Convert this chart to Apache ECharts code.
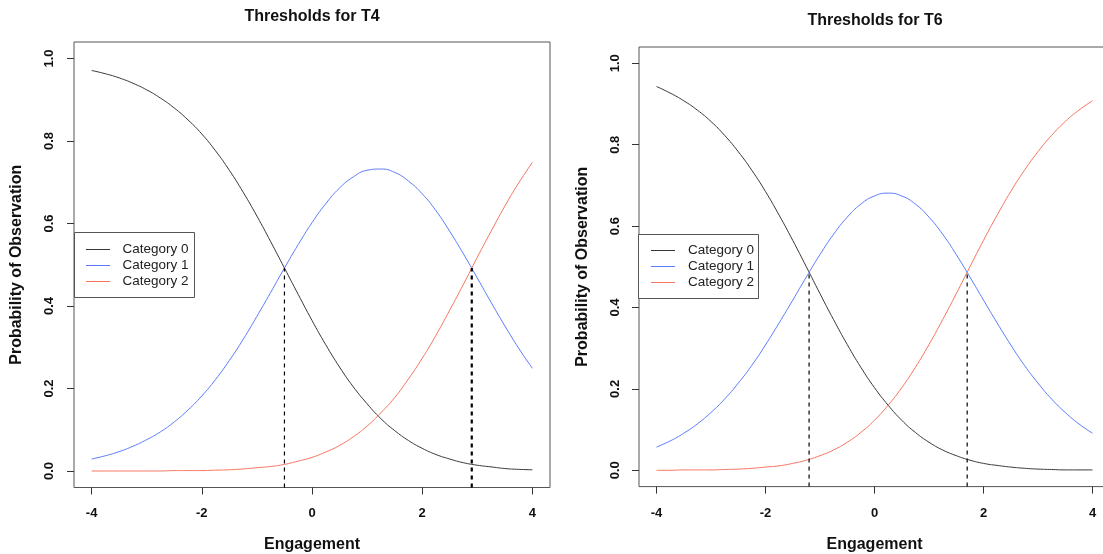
<!DOCTYPE html>
<html>
<head>
<meta charset="utf-8">
<title>Thresholds</title>
<script src="https://cdn.jsdelivr.net/npm/echarts@6.0.0/dist/echarts.min.js"></script>
<style>
	html,body{margin:0;padding:0;background:#fff;}
	#main{width:1103px;height:554px;}
</style>
</head>
<body>
<div id="main"></div>
<script>
// engagement values where the curves were read (every 0.25)
var xs = [-4, -3.75, -3.5, -3.25, -3, -2.75, -2.5, -2.25, -2, -1.75, -1.5, -1.25, -1, -0.75, -0.5, -0.25,
	0, 0.25, 0.5, 0.75, 1, 1.25, 1.5, 1.75, 2, 2.25, 2.5, 2.75, 3, 3.25, 3.5, 3.75, 4];

// T4 probabilities
var t4_cat0 = [0.971, 0.963, 0.953, 0.940, 0.924, 0.904, 0.880, 0.851, 0.817, 0.776, 0.729, 0.676, 0.618, 0.556, 0.492, 0.428,
	0.365, 0.306, 0.252, 0.204, 0.163, 0.127, 0.098, 0.074, 0.055, 0.040, 0.029, 0.020, 0.014, 0.010, 0.006, 0.004, 0.003];
var t4_cat1 = [0.029, 0.037, 0.047, 0.060, 0.076, 0.095, 0.119, 0.148, 0.182, 0.222, 0.268, 0.319, 0.375, 0.433, 0.492, 0.549,
	0.602, 0.648, 0.686, 0.713, 0.729, 0.732, 0.724, 0.703, 0.672, 0.631, 0.581, 0.526, 0.468, 0.409, 0.352, 0.298, 0.249];
var t4_cat2 = [0.000, 0.000, 0.000, 0.000, 0.000, 0.000, 0.001, 0.001, 0.001, 0.002, 0.003, 0.005, 0.008, 0.011, 0.016, 0.024,
	0.033, 0.046, 0.062, 0.083, 0.109, 0.141, 0.178, 0.223, 0.273, 0.329, 0.390, 0.453, 0.518, 0.581, 0.642, 0.698, 0.748];

// T6 probabilities
var t6_cat0 = [0.943, 0.927, 0.908, 0.885, 0.857, 0.823, 0.783, 0.737, 0.685, 0.627, 0.565, 0.500, 0.434, 0.370, 0.309, 0.253,
	0.203, 0.160, 0.123, 0.093, 0.069, 0.050, 0.036, 0.025, 0.017, 0.012, 0.008, 0.005, 0.003, 0.002, 0.001, 0.001, 0.001];
var t6_cat1 = [0.057, 0.072, 0.091, 0.114, 0.142, 0.175, 0.214, 0.258, 0.308, 0.362, 0.418, 0.475, 0.530, 0.580, 0.622, 0.654,
	0.674, 0.681, 0.674, 0.654, 0.622, 0.580, 0.530, 0.475, 0.418, 0.362, 0.308, 0.258, 0.214, 0.175, 0.142, 0.114, 0.091];
var t6_cat2 = [0.000, 0.000, 0.001, 0.001, 0.001, 0.002, 0.003, 0.005, 0.008, 0.011, 0.017, 0.025, 0.036, 0.050, 0.069, 0.093,
	0.123, 0.160, 0.203, 0.253, 0.309, 0.370, 0.434, 0.500, 0.565, 0.627, 0.685, 0.737, 0.783, 0.823, 0.857, 0.885, 0.908];

// thresholds (dashed lines) and the height where the curves cross
var t4_thresholds = [-0.5, 2.9];
var t4_cross = [0.492, 0.492];
var t6_thresholds = [-1.2, 1.7];
var t6_cross = [0.487, 0.487];

var xTicks = [-4, -2, 0, 2, 4];
var yTicks = [0, 0.2, 0.4, 0.6, 0.8, 1.0];
var categories = ['Category 0', 'Category 1', 'Category 2'];
var titles = ['Thresholds for T4', 'Thresholds for T6'];

var colors = ['#383838', '#5b7bfe', '#f8735f'];
var FONT = 'Liberation Sans, Arial, Helvetica, sans-serif';

window.onload = function(){
	e_chart();
};

function pairs(vals){
	var out = [];
	for (var i = 0; i < xs.length; i++) {
		out.push([xs[i], vals[i]]);
	}
	return out;
}

function makeX(idx){
	return {
		gridIndex: idx,
		type: 'value',
		min: -4.32,
		max: 4.32,
		axisLine: {show: false, onZero: false},
		splitLine: {show: false},
		axisTick: {show: true, length: 7, customValues: xTicks, lineStyle: {color: '#333', width: 1}},
		axisLabel: {
			customValues: xTicks,
			margin: idx == 0 ? 19 : 20,
			fontFamily: FONT, fontWeight: 'bold', fontSize: 13, color: '#111',
			formatter: function(v){ return String(v); }
		},
		name: 'Engagement',
		nameLocation: 'middle',
		nameGap: idx == 0 ? 49 : 50,
		nameTextStyle: {fontFamily: FONT, fontWeight: 'bold', fontSize: 16, color: '#111'}
	};
}

function makeY(idx){
	return {
		gridIndex: idx,
		type: 'value',
		min: -0.04,
		max: 1.04,
		axisLine: {show: false, onZero: false},
		splitLine: {show: false},
		axisTick: {show: true, length: 7, customValues: yTicks, lineStyle: {color: '#333', width: 1}},
		axisLabel: {
			customValues: yTicks,
			rotate: 90,
			margin: idx == 0 ? 18 : 17,
			fontFamily: FONT, fontWeight: 'bold', fontSize: 13, color: '#111',
			formatter: function(v){ return v.toFixed(1); }
		},
		name: 'Probability of Observation',
		nameLocation: 'middle',
		nameGap: idx == 0 ? 49 : 48,
		nameTextStyle: {fontFamily: FONT, fontWeight: 'bold', fontSize: 16, color: '#111'}
	};
}

function curve(idx, k, vals){
	return {
		name: categories[k],
		type: 'line',
		xAxisIndex: idx,
		yAxisIndex: idx,
		data: pairs(vals),
		smooth: 0.5,
		showSymbol: false,
		symbol: 'none',
		silent: true,
		lineStyle: {color: colors[k], width: 1},
		itemStyle: {color: colors[k]},
		z: 2
	};
}

function dashed(idx, t, top, w){
	return {
		type: 'line',
		xAxisIndex: idx,
		yAxisIndex: idx,
		data: [[t, -0.04], [t, top]],
		showSymbol: false,
		symbol: 'none',
		silent: true,
		lineStyle: {color: '#000', width: w, type: [4, 4]},
		z: 3
	};
}

// legend drawn like R's legend() box
function legendBox(x, y, w, h, lineX, textX, rows){
	var els = [{
		type: 'rect',
		shape: {x: x, y: y, width: w, height: h},
		style: {fill: '#fff', stroke: '#555', lineWidth: 1},
		z: 10
	}];
	for (var k = 0; k < categories.length; k++) {
		els.push({
			type: 'line',
			shape: {x1: lineX, y1: rows[k], x2: lineX + 24, y2: rows[k]},
			style: {stroke: colors[k], lineWidth: 1},
			z: 11
		});
		els.push({
			type: 'text',
			x: textX,
			y: rows[k],
			style: {text: categories[k], font: '13.5px ' + FONT, fill: '#222',
				align: 'left', verticalAlign: 'middle', textAlign: 'left', textVerticalAlign: 'middle'},
			z: 11
		});
	}
	return els;
}

function e_chart(){
	var myChart = echarts.init(document.getElementById('main'), null, {renderer: 'canvas'});

	var series = [
		curve(0, 0, t4_cat0), curve(0, 1, t4_cat1), curve(0, 2, t4_cat2),
		curve(1, 0, t6_cat0), curve(1, 1, t6_cat1), curve(1, 2, t6_cat2)
	];
	// left panel: second line looks drawn twice (heavier)
	series.push(dashed(0, t4_thresholds[0], t4_cross[0], 1.2));
	series.push(dashed(0, t4_thresholds[1], t4_cross[1], 2.2));
	series.push(dashed(1, t6_thresholds[0], t6_cross[0], 1.2));
	series.push(dashed(1, t6_thresholds[1], t6_cross[1], 1.2));

	var graphics = [
		{type: 'text', x: 312, y: 17, style: {text: titles[0], font: 'bold 16px ' + FONT, fill: '#111',
			align: 'center', verticalAlign: 'middle', textAlign: 'center', textVerticalAlign: 'middle'}},
		{type: 'text', x: 875, y: 21, style: {text: titles[1], font: 'bold 16px ' + FONT, fill: '#111',
			align: 'center', verticalAlign: 'middle', textAlign: 'center', textVerticalAlign: 'middle'}}
	];
	graphics = graphics.concat(legendBox(74.5, 232.5, 120, 65, 86, 122.5, [249.5, 265.5, 281.5]));
	graphics = graphics.concat(legendBox(638.5, 234.5, 120, 64, 651, 688, [250.5, 266.5, 282.5]));

	var option = {
		animation: false,
		backgroundColor: '#fff',
		grid: [
			{left: 74, top: 42, width: 476, height: 445.5, show: true, borderColor: '#555', borderWidth: 1,
				backgroundColor: 'transparent', outerBoundsMode: 'none', containLabel: false},
			{left: 639, top: 47, width: 471, height: 439.6, show: true, borderColor: '#555', borderWidth: 1,
				backgroundColor: 'transparent', outerBoundsMode: 'none', containLabel: false}
		],
		xAxis: [makeX(0), makeX(1)],
		yAxis: [makeY(0), makeY(1)],
		series: series,
		graphic: graphics
	};

	myChart.setOption(option);
}
</script>
</body>
</html>
